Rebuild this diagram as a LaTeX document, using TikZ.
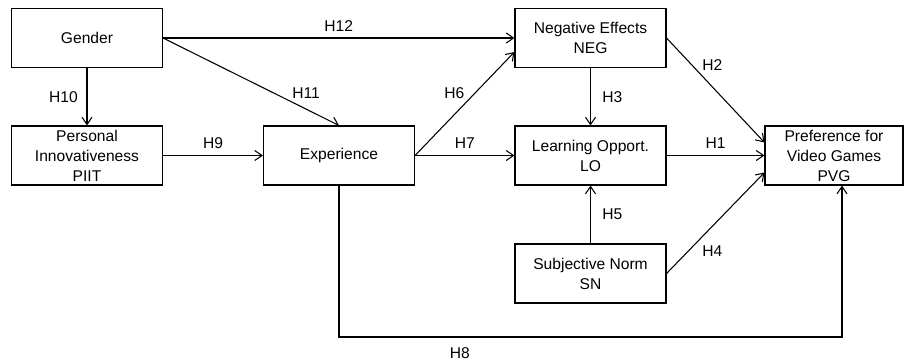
\documentclass[tikz,border=0pt]{standalone}
\usepackage{fontspec}
\setmainfont{Liberation Sans}
\usetikzlibrary{arrows.meta,calc}

\begin{document}
\begin{tikzpicture}[x=0.75pt,y=-0.75pt]
		\tikzset{
		    vertex/.style={rectangle,draw,line width=0.8pt,minimum width=113.25pt,minimum height=44.25pt,inner sep=0pt,align=center,font=\fontsize{11.7}{15}\selectfont},
		    edge/.style={-{Straight Barb[length=5.5pt,width=7.5pt]},line width=0.8pt},
		    hyp/.style={font=\fontsize{11.7}{13}\selectfont,inner sep=4.5pt}
		}
		\useasboundingbox (0,0) rectangle (905,363);

		% vertices
		\node[vertex] (gender) at (87,38) {Gender};
		\node[vertex] (piit) at (87,155.5) {Personal\\Innovativeness\\PIIT};
		\node[vertex] (exp) at (339,155.5) {Experience};
		\node[vertex] (neg) at (590.5,38) {Negative Effects\\NEG};
		\node[vertex] (lo) at (590.5,155.5) {Learning Opport.\\LO};
		\node[vertex] (sn) at (590.5,273.5) {Subjective Norm\\SN};
		\node[vertex,minimum width=103.5pt] (pvg) at (834,155.5) {Preference for\\Video Games\\PVG};
		\coordinate (h8corner) at (842,337);

		%edges
		\draw[edge] (gender.east) -- (neg.west) node[midway,above,hyp] {H12};
		\draw[edge] (gender.east) -- (exp.north) node[pos=0.72,anchor=south west,hyp,inner sep=1.5pt] {H11};
		\draw[edge] (gender.south) -- (piit.north) node[midway,left,hyp,xshift=-2] {H10};
		\draw[edge] (piit.east) -- (exp.west) node[midway,above,hyp] {H9};
		\draw[edge] (exp.east) -- ($(neg.west)+(0,14)$) node[pos=0.52,anchor=south east,hyp,inner sep=1.5pt] {H6};
		\draw[edge] (exp.east) -- (lo.west) node[midway,above,hyp] {H7};
		\draw[edge] (neg.south) -- (lo.north) node[midway,right,hyp,xshift=4] {H3};
		\draw[edge] (neg.east) -- ($(pvg.west)+(0,-13)$) node[pos=0.34,anchor=south west,hyp,inner sep=1.5pt] {H2};
		\draw[edge] (lo.east) -- (pvg.west) node[midway,above,hyp] {H1};
		\draw[edge] (sn.north) -- (lo.south) node[midway,right,hyp,xshift=4] {H5};
		\draw[edge] (sn.east) -- ($(pvg.west)+(0,17)$) node[pos=0.3,anchor=north west,hyp,inner sep=1.5pt,xshift=3] {H4};
		\draw[edge] (exp.south) |- (h8corner) node[pos=0.62,below,hyp,yshift=-3] {H8} -- (h8corner |- pvg.south);

	\end{tikzpicture}
\end{document}
